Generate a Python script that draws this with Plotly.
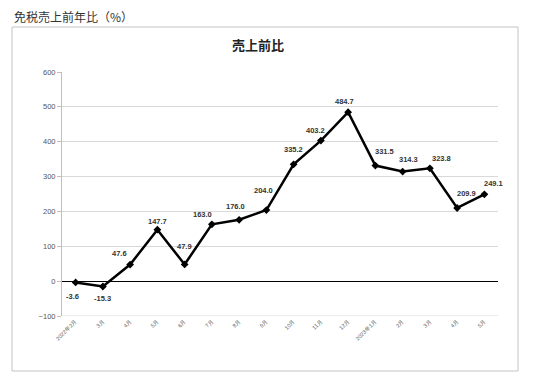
import plotly.graph_objects as go

months = ["2022年2月", "3月", "4月", "5月", "6月", "7月", "8月", "9月", "10月", "11月",
          "12月", "2023年1月", "2月", "3月", "4月", "5月"]
values = [-3.6, -15.3, 47.6, 147.7, 47.9, 163.0, 176.0, 204.0, 335.2, 403.2,
          484.7, 331.5, 314.3, 323.8, 209.9, 249.1]
# label offsets (px) relative to each point: (right, up)
label_dx = [-3, 0, -11, 0, 0, -9, -4, -3, 0, -5, -4, 9, 6, 12, 9, 9]
label_dy = [-14, -12, 11, 8, 18, 10, 13, 20, 15, 10, 11, 14, 12, 10, 14, 11]

cats = list(range(len(months)))

fig = go.Figure()
fig.add_trace(go.Scatter(
    x=cats, y=values, mode="lines+markers",
    line=dict(color="black", width=2.5),
    marker=dict(symbol="diamond", size=6, color="black"),
    hoverinfo="skip",
))

annotations = [
    dict(x=c, y=v, xref="x", yref="y", text=f"<b>{v:.1f}</b>", showarrow=False,
         xshift=dx, yshift=dy, xanchor="center", yanchor="middle",
         font=dict(family="Liberation Sans", size=7.5, color="#333"))
    for c, v, dx, dy in zip(cats, values, label_dx, label_dy)
]
annotations += [
    dict(text="免税売上前年比（%）", xref="paper", yref="paper",
         x=-0.1147, y=1.229, xanchor="left", yanchor="middle", showarrow=False,
         font=dict(family="Noto Sans CJK JP", size=12, color="#333")),
    dict(text="<b>売上前比</b>", xref="paper", yref="paper",
         x=0.4495, y=1.1107, xanchor="center", yanchor="middle", showarrow=False,
         font=dict(family="Noto Sans CJK JP", size=13, color="#222")),
]

fig.update_layout(
    width=527, height=367,
    margin=dict(l=54, r=37, t=64, b=59),
    paper_bgcolor="white", plot_bgcolor="white",
    showlegend=False,
    font=dict(family="Liberation Sans"),
    xaxis=dict(
        tickmode="array", tickvals=cats, ticktext=months,
        range=[-0.5, len(months) - 0.5],
        tickangle=-45, tickfont=dict(size=5.5, color="#555"),
        showgrid=False, zeroline=False, showline=False, ticks="",
    ),
    yaxis=dict(
        range=[-100, 600], dtick=100, tick0=0,
        tickfont=dict(size=7.5, color="#555"),
        showgrid=True, gridcolor="#d9d9d9", gridwidth=1,
        zeroline=True, zerolinecolor="black", zerolinewidth=1,
        showline=True, linecolor="#bfbfbf", linewidth=1,
        ticks="outside", ticklen=4, tickcolor="#bfbfbf",
    ),
    shapes=[
        dict(type="rect", xref="paper", yref="paper",
             x0=-0.1147, x1=1.0459, y0=-0.2254, y1=1.1844,
             line=dict(color="#c4c4c4", width=1), fillcolor="rgba(0,0,0,0)", layer="below"),
        dict(type="line", xref="paper", yref="y", x0=0, x1=1, y0=-100, y1=-100,
             line=dict(color="#d9d9d9", width=1), layer="below"),
    ],
    annotations=annotations,
)

fig.write_html("out.html")
